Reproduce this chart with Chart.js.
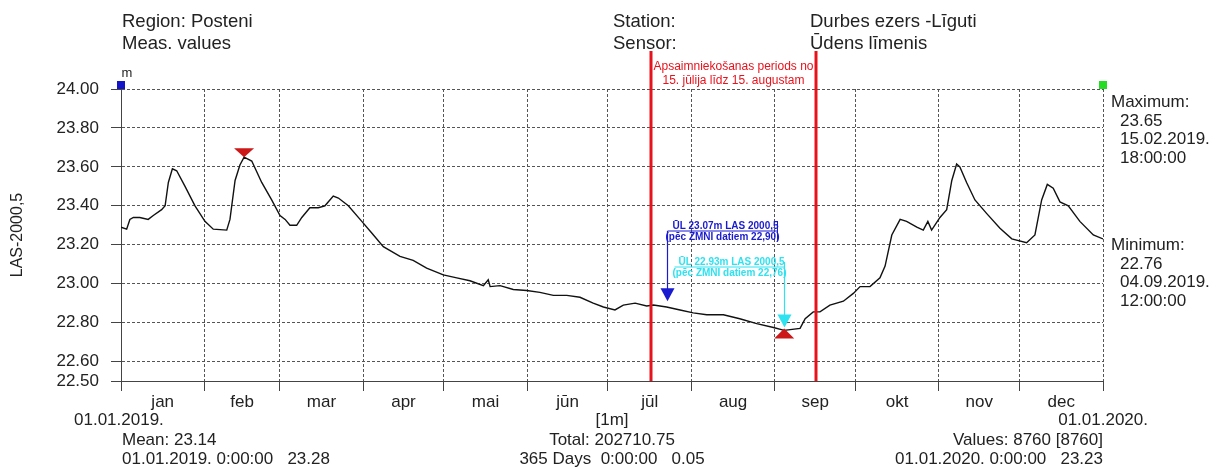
<!DOCTYPE html>
<html>
<head>
<meta charset="utf-8">
<script src="https://cdn.jsdelivr.net/npm/chart.js@4"></script>
<style>
  html, body { margin: 0; padding: 0; background: #fff; }
</style>
</head>
<body>
<canvas id="canvasLimenis" width="1216" height="470"></canvas>
<script>
// Dati
var months = ['jan', 'feb', 'mar', 'apr', 'mai', 'jūn', 'jūl', 'aug', 'sep', 'okt', 'nov', 'dec'];
var monthStarts = [0, 31, 59, 90, 120, 151, 181, 212, 243, 273, 304, 334, 365];
var yTicks = [22.5, 22.6, 22.8, 23.0, 23.2, 23.4, 23.6, 23.8, 24.0];

// ūdens līmenis, diena gadā -> m
var levelDays = [
    0, 2.1, 3.3, 4.6, 7, 10.1, 12.0, 15.1, 16.4, 17.6,
    19.1, 20.7, 23.8, 27.5, 31.2, 34.3, 39.3, 40.5, 42.4, 44.2,
    45.75, 48.6, 52.3, 56.0, 59.1, 61.0, 62.8, 65.3, 67.2, 70.2,
    73.3, 75.8, 78.9, 80.8, 84.5, 89.5, 93.2, 97.5, 103.7, 108.6,
    113.6, 119.8, 124.8, 129.7, 134.7, 136.5, 137.2, 140.9, 145.8, 150.8, 155.7,
    160.7, 165.7, 170.6, 175.5, 179.3, 183.6, 186.7, 191.1, 195.4, 197.9,
    202.8, 207.8, 212.7, 217.7, 223.9, 230.0, 236.3, 242.5, 246.5, 252.4,
    254.3, 257.3, 259.8, 263.5, 268.5, 272.2, 274.7, 278.4, 282.1, 284.0,
    286.5, 289.6, 292.0, 295.8, 298.2, 299.9, 301.3, 304.4, 306.9, 308.8, 310.6,
    311.8, 314.3, 317.4, 321.8, 326.7, 331.1, 336.6, 339.7, 342.2, 344.3,
    346.5, 349.0, 352.1, 356.4, 361.4, 365
];
var levelValues = [
    23.29, 23.28, 23.33, 23.34, 23.34, 23.33, 23.35, 23.38, 23.40, 23.52,
    23.59, 23.58, 23.50, 23.40, 23.32, 23.28, 23.275, 23.33, 23.53, 23.61,
    23.65, 23.63, 23.52, 23.43, 23.35, 23.33, 23.30, 23.30, 23.34, 23.39,
    23.39, 23.40, 23.45, 23.44, 23.40, 23.32, 23.26, 23.19, 23.14, 23.12,
    23.08, 23.045, 23.03, 23.015, 22.99, 23.02, 22.985, 22.99, 22.97, 22.965, 22.955,
    22.94, 22.94, 22.93, 22.90, 22.88, 22.865, 22.89, 22.90, 22.885, 22.89,
    22.88, 22.865, 22.85, 22.84, 22.84, 22.82, 22.795, 22.775, 22.76, 22.77,
    22.82, 22.855, 22.855, 22.89, 22.91, 22.95, 22.985, 22.985, 23.03, 23.09,
    23.25, 23.33, 23.32, 23.29, 23.275, 23.32, 23.275, 23.34, 23.38, 23.53, 23.615,
    23.60, 23.52, 23.43, 23.36, 23.285, 23.23, 23.21, 23.25, 23.43, 23.51,
    23.49, 23.42, 23.40, 23.32, 23.25, 23.23
];

var maxPoint = [45.75, 23.65];
var minPoint = [246.5, 22.76];
var periodDays = [197, 258.3];
var blueArrow = [202.8, 22.91];
var cyanArrow = [246.5, 22.775];

var periodText = ['Apsaimniekošanas periods no', '15. jūlija līdz 15. augustam'];
var blueText = ['ŪL 23.07m LAS 2000,5', '(pēc ZMNI datiem 22,90)'];
var cyanText = ['ŪL 22.93m LAS 2000,5', '(pēc ZMNI datiem 22,76)'];
var headLeft = ['Region: Posteni', 'Meas. values'];
var headMid = ['Station:', 'Sensor:'];
var headRight = ['Durbes ezers -Līguti', 'Ūdens līmenis'];
var maxText = ['Maximum:', '23.65', '15.02.2019.', '18:00:00'];
var minText = ['Minimum:', '22.76', '04.09.2019.', '12:00:00'];
var footLeft = ['01.01.2019.', 'Mean: 23.14', '01.01.2019. 0:00:00   23.28'];
var footMid = ['[1m]', 'Total: 202710.75', '365 Days  0:00:00   0.05'];
var footRight = ['01.01.2020.', 'Values: 8760 [8760]', '01.01.2020. 0:00:00   23.23'];

var FONT = '"Liberation Sans", Arial, sans-serif';
var TXT = '#222';

// vidus punkti mēnešu nosaukumiem
var monthMids = [];
for (var i = 0; i < months.length; i++) {
    monthMids.push((monthStarts[i] + monthStarts[i + 1]) / 2);
}

function Teksts(ctx, s, x, y, size, color, align, bold) {
    ctx.font = (bold ? 'bold ' : '') + size + 'px ' + FONT;
    ctx.fillStyle = color;
    ctx.textAlign = align || 'left';
    ctx.textBaseline = 'alphabetic';
    ctx.fillText(s, x, y);
}

function Linija(ctx, x1, y1, x2, y2, color, w) {
    ctx.strokeStyle = color;
    ctx.lineWidth = w;
    ctx.setLineDash([]);
    ctx.beginPath();
    ctx.moveTo(x1, y1);
    ctx.lineTo(x2, y2);
    ctx.stroke();
}

function Trijsturis(ctx, x, yTip, w, h, color) {
    // h > 0 : uz leju vērsts, h < 0 : uz augšu
    ctx.fillStyle = color;
    ctx.beginPath();
    ctx.moveTo(x - w / 2, yTip - h);
    ctx.lineTo(x + w / 2, yTip - h);
    ctx.lineTo(x, yTip);
    ctx.closePath();
    ctx.fill();
}

var piezimes = {
    id: 'piezimes',
    afterDatasetsDraw: function (chart) {
        var ctx = chart.ctx, xs = chart.scales.x, ys = chart.scales.y;
        var area = chart.chartArea;
        ctx.save();

        // galvene
        Teksts(ctx, headLeft[0], 122, 27, 18.5, TXT);
        Teksts(ctx, headLeft[1], 122, 49, 18.5, TXT);
        Teksts(ctx, headMid[0], 613, 27, 18.5, TXT);
        Teksts(ctx, headMid[1], 613, 49, 18.5, TXT);
        Teksts(ctx, headRight[0], 810, 27, 18.5, TXT);
        Teksts(ctx, headRight[1], 810, 49, 18.5, TXT);
        Teksts(ctx, 'm', area.left + 6, 77, 13, TXT, 'center');

        // stūru marķieri
        ctx.fillStyle = '#1414c8';
        ctx.fillRect(area.left - 4, area.top - 8, 8, 8);
        ctx.fillStyle = '#22dd22';
        ctx.fillRect(area.right - 4, area.top - 8, 8, 8);

        // apsaimniekošanas periods
        var p1 = Math.round(xs.getPixelForValue(periodDays[0]));
        var p2 = Math.round(xs.getPixelForValue(periodDays[1]));
        Linija(ctx, p1, 51, p1, area.bottom, '#e8121c', 3);
        Linija(ctx, p2, 51, p2, area.bottom, '#e8121c', 3);
        Teksts(ctx, periodText[0], (p1 + p2) / 2, 70, 12, '#e8121c', 'center');
        Teksts(ctx, periodText[1], (p1 + p2) / 2, 84, 12, '#e8121c', 'center');

        // max / min
        var mx = xs.getPixelForValue(maxPoint[0]), my = ys.getPixelForValue(maxPoint[1]);
        Trijsturis(ctx, mx, my, 20, 9, '#cc1818');
        var nx = xs.getPixelForValue(minPoint[0]), ny = ys.getPixelForValue(minPoint[1]);
        Trijsturis(ctx, nx, ny - 2, 20, -10, '#cc1818');

        // zilā bulta
        var bx = Math.round(xs.getPixelForValue(blueArrow[0])) + 0.5, by = ys.getPixelForValue(blueArrow[1]);
        var blue = '#1a1ad0';
        Linija(ctx, bx, 231, bx + 110, 231, blue, 1);
        Linija(ctx, bx + 110, 221, bx + 110, 241, blue, 1);
        Linija(ctx, bx, 231, bx, by - 12, blue, 1.2);
        Trijsturis(ctx, bx, by, 14, 13, blue);
        Teksts(ctx, blueText[0], bx + 58, 229, 10, blue, 'center', true);
        Teksts(ctx, blueText[1], bx + 55, 240, 10, blue, 'center', true);

        // ciāna bulta
        var cx = Math.round(xs.getPixelForValue(cyanArrow[0])) + 0.5, cy = ys.getPixelForValue(cyanArrow[1]);
        var cyan = '#2ee2f0';
        Linija(ctx, cx - 110, 267, cx, 267, cyan, 1);
        Linija(ctx, cx, 262, cx, cy - 12, cyan, 1.2);
        Trijsturis(ctx, cx, cy, 14, 13, cyan);
        Teksts(ctx, cyanText[0], cx - 53, 265, 10, cyan, 'center', true);
        Teksts(ctx, cyanText[1], cx - 55, 276, 10, cyan, 'center', true);

        // labā puse
        Teksts(ctx, maxText[0], 1111, 107, 17, TXT);
        for (var k = 1; k < 4; k++) Teksts(ctx, maxText[k], 1120, 107 + k * 18.5, 17, TXT);
        Teksts(ctx, minText[0], 1111, 250, 17, TXT);
        for (var k = 1; k < 4; k++) Teksts(ctx, minText[k], 1120, 250 + k * 18.5, 17, TXT);

        // apakša
        var rows = [425, 445, 464];
        Teksts(ctx, footLeft[0], 74, rows[0], 17, TXT);
        Teksts(ctx, footLeft[1], 122, rows[1], 17, TXT);
        Teksts(ctx, footLeft[2], 122, rows[2], 17, TXT);
        for (var r = 0; r < 3; r++) Teksts(ctx, footMid[r], 612, rows[r], 17, TXT, 'center');
        Teksts(ctx, footRight[0], 1148, rows[0], 17, TXT, 'right');
        Teksts(ctx, footRight[1], 1103, rows[1], 17, TXT, 'right');
        Teksts(ctx, footRight[2], 1103, rows[2], 17, TXT, 'right');

        ctx.restore();
    }
};

function VeLimenis() {
    var points = levelDays.map(function (d, i) { return { x: d, y: levelValues[i] }; });

    new Chart('canvasLimenis', {
        type: 'line',
        data: {
            datasets: [{
                data: points,
                borderColor: '#111',
                borderWidth: 1.4,
                pointRadius: 0,
                tension: 0,
                fill: false
            }]
        },
        options: {
            responsive: false,
            animation: false,
            layout: { padding: { top: 89, right: 113, left: 0, bottom: 0 } },
            plugins: { legend: { display: false }, tooltip: { enabled: false } },
            scales: {
                x: {
                    type: 'linear',
                    min: 0,
                    max: 365,
                    afterBuildTicks: function (s) {
                        s.ticks = monthStarts.concat(monthMids).sort(function (a, b) { return a - b; })
                            .map(function (v) { return { value: v }; });
                    },
                    afterFit: function (s) { s.height = 89; },
                    ticks: {
                        autoSkip: false,
                        maxRotation: 0,
                        padding: 1,
                        color: TXT,
                        font: { family: FONT, size: 17 },
                        callback: function (v) {
                            var j = monthMids.indexOf(v);
                            return j >= 0 ? months[j] : '';
                        }
                    },
                    grid: {
                        color: function (c) { return monthStarts.indexOf(c.tick && c.tick.value) >= 0 ? '#555' : 'rgba(0,0,0,0)'; },
                        tickColor: function (c) { return monthStarts.indexOf(c.tick && c.tick.value) >= 0 ? '#444' : 'rgba(0,0,0,0)'; },
                        tickLength: 10,
                        tickBorderDash: []
                    },
                    border: { color: '#444', width: 1, dash: [3, 2] }
                },
                y: {
                    min: 22.5,
                    max: 24,
                    afterBuildTicks: function (s) {
                        s.ticks = yTicks.map(function (v) { return { value: v }; });
                    },
                    afterFit: function (s) { s.width = 121; },
                    ticks: {
                        padding: 12,
                        color: TXT,
                        font: { family: FONT, size: 17 },
                        callback: function (v) { return Number(v).toFixed(2); }
                    },
                    grid: {
                        color: '#555',
                        tickColor: '#444',
                        tickLength: 10,
                        tickBorderDash: []
                    },
                    border: { color: '#444', width: 1, dash: [3, 2] },
                    title: {
                        display: true,
                        text: 'LAS-2000,5',
                        color: TXT,
                        font: { family: FONT, size: 16 },
                        padding: { top: 8, bottom: 0 }
                    }
                }
            }
        },
        plugins: [piezimes]
    });
}

VeLimenis();
</script>
</body>
</html>
